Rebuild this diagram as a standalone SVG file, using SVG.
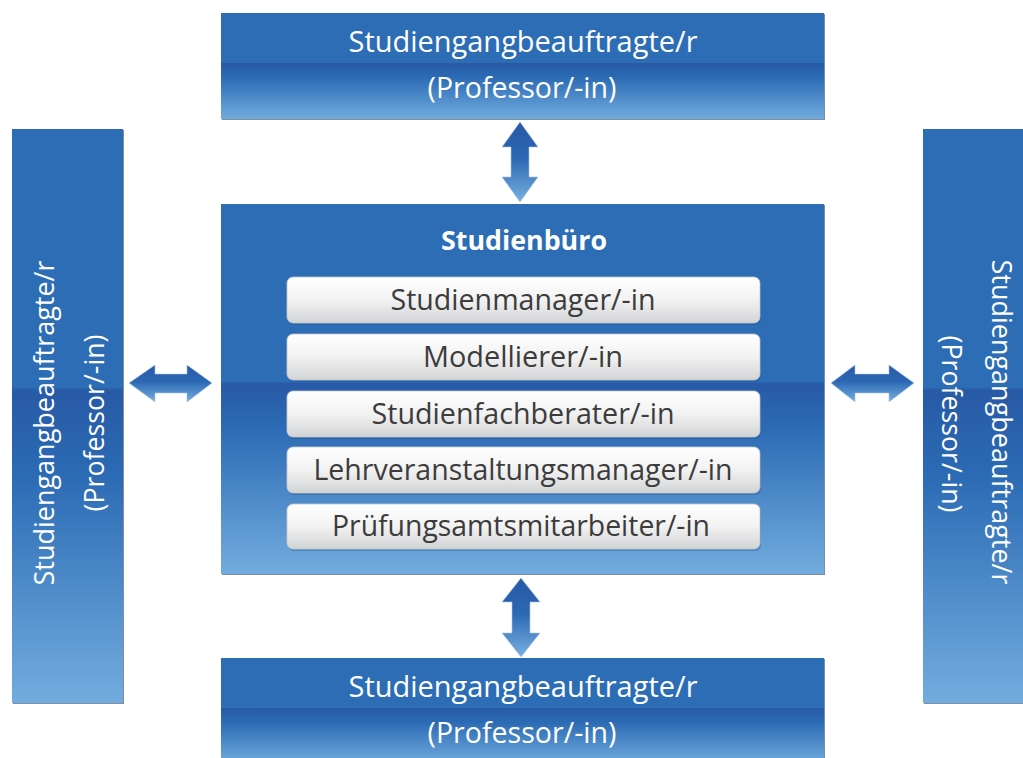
<svg xmlns="http://www.w3.org/2000/svg" width="1023" height="758" viewBox="0 0 1023 758">
<defs>
<linearGradient id="boxGrad" x1="0" y1="0" x2="0" y2="1">
<stop offset="0" stop-color="#2c6db6"/>
<stop offset="0.47" stop-color="#2c6db6"/>
<stop offset="0.475" stop-color="#285aa6"/>
<stop offset="0.6" stop-color="#2b6ab4"/>
<stop offset="1" stop-color="#72acde"/>
</linearGradient>
<linearGradient id="midGrad" x1="0" y1="0" x2="0" y2="1">
<stop offset="0" stop-color="#2c6db6"/>
<stop offset="0.48" stop-color="#2c6db6"/>
<stop offset="0.485" stop-color="#285aa6"/>
<stop offset="0.6" stop-color="#2b6ab4"/>
<stop offset="1" stop-color="#72acde"/>
</linearGradient>
<linearGradient id="sideGrad" x1="0" y1="0" x2="0" y2="1">
<stop offset="0" stop-color="#2c6db6"/>
<stop offset="0.45" stop-color="#2c6db6"/>
<stop offset="0.455" stop-color="#285aa6"/>
<stop offset="0.6" stop-color="#2b6ab4"/>
<stop offset="1" stop-color="#72acde"/>
</linearGradient>
<linearGradient id="arrowGrad" x1="0" y1="0" x2="0" y2="1">
<stop offset="0" stop-color="#2858a6"/>
<stop offset="0.45" stop-color="#2c68b3"/>
<stop offset="1" stop-color="#78b0e0"/>
</linearGradient>
<linearGradient id="innerGrad" x1="0" y1="0" x2="0" y2="1">
<stop offset="0" stop-color="#ffffff"/>
<stop offset="0.5" stop-color="#f2f2f2"/>
<stop offset="1" stop-color="#d2d3d5"/>
</linearGradient>
<style>
.shadow{fill:#7f8ea2;}
.big{font-family:"Open Sans","Noto Sans",sans-serif;font-size:29px;fill:#ffffff;text-anchor:middle;}
.side{font-family:"Open Sans","Noto Sans",sans-serif;font-size:27px;fill:#ffffff;text-anchor:middle;}
.title{font-family:"Open Sans","Noto Sans",sans-serif;font-size:26px;font-weight:bold;fill:#ffffff;text-anchor:middle;}
.inner{font-family:"Open Sans","Noto Sans",sans-serif;font-size:29px;fill:#3c3c3c;text-anchor:middle;}
.ibox{fill:url(#innerGrad);stroke:#c4c6c9;stroke-width:0.8;}
.ishadow{fill:#1d4f8f;opacity:0.35;}
.arrow{fill:url(#arrowGrad);stroke:#a9c8e8;stroke-width:0.6;}
</style>
</defs>
<rect width="1023" height="758" fill="#ffffff"/>

<g id="top-box">
<rect class="shadow" x="222" y="14" width="603" height="106"/>
<rect x="221" y="13" width="603" height="106" fill="url(#boxGrad)"/>
<text class="big" x="523" y="52" textLength="349" lengthAdjust="spacingAndGlyphs">Studiengangbeauftragte/r</text>
<text class="big" x="522" y="98" textLength="189" lengthAdjust="spacingAndGlyphs">(Professor/-in)</text>
</g>

<g id="left-box">
<rect class="shadow" x="13" y="130" width="111" height="574"/>
<rect x="12" y="129" width="111" height="574" fill="url(#sideGrad)"/>
<text class="side" transform="translate(54,423) rotate(-90)" textLength="325" lengthAdjust="spacingAndGlyphs">Studiengangbeauftragte/r</text>
<text class="side" transform="translate(104,423) rotate(-90)" textLength="177" lengthAdjust="spacingAndGlyphs">(Professor/-in)</text>
</g>

<g id="right-box">
<rect class="shadow" x="924" y="130" width="100" height="574"/>
<rect x="923" y="129" width="101" height="574" fill="url(#sideGrad)"/>
<text class="side" transform="translate(992,422) rotate(90)" textLength="325" lengthAdjust="spacingAndGlyphs">Studiengangbeauftragte/r</text>
<text class="side" transform="translate(942,424) rotate(90)" textLength="177" lengthAdjust="spacingAndGlyphs">(Professor/-in)</text>
</g>

<g id="bottom-box">
<rect class="shadow" x="222" y="659" width="603" height="106"/>
<rect x="221" y="658" width="603" height="106" fill="url(#boxGrad)"/>
<text class="big" x="523" y="697" textLength="349" lengthAdjust="spacingAndGlyphs">Studiengangbeauftragte/r</text>
<text class="big" x="522" y="743" textLength="189" lengthAdjust="spacingAndGlyphs">(Professor/-in)</text>
</g>

<g id="studienbuero">
<rect class="shadow" x="222" y="205" width="603" height="370"/>
<rect x="221" y="204" width="603" height="370" fill="url(#midGrad)"/>
<text class="title" x="524" y="250" textLength="166" lengthAdjust="spacingAndGlyphs">Studienbüro</text>
</g>

<g id="studienmanager">
<rect class="ishadow" x="288" y="279" width="473" height="46" rx="6"/>
<rect class="ibox" x="287" y="277" width="473" height="46" rx="6"/>
<text class="inner" x="523" y="310" textLength="265" lengthAdjust="spacingAndGlyphs">Studienmanager/-in</text>
</g>
<g id="modellierer">
<rect class="ishadow" x="288" y="336" width="473" height="46" rx="6"/>
<rect class="ibox" x="287" y="334" width="473" height="46" rx="6"/>
<text class="inner" x="523" y="367" textLength="200" lengthAdjust="spacingAndGlyphs">Modellierer/-in</text>
</g>
<g id="studienfachberater">
<rect class="ishadow" x="288" y="393" width="473" height="46" rx="6"/>
<rect class="ibox" x="287" y="391" width="473" height="46" rx="6"/>
<text class="inner" x="523" y="424" textLength="303" lengthAdjust="spacingAndGlyphs">Studienfachberater/-in</text>
</g>
<g id="lehrveranstaltungsmanager">
<rect class="ishadow" x="288" y="449" width="473" height="46" rx="6"/>
<rect class="ibox" x="287" y="447" width="473" height="46" rx="6"/>
<text class="inner" x="523" y="480" textLength="419" lengthAdjust="spacingAndGlyphs">Lehrveranstaltungsmanager/-in</text>
</g>
<g id="pruefungsamt">
<rect class="ishadow" x="288" y="506" width="473" height="45" rx="6"/>
<rect class="ibox" x="287" y="504" width="473" height="45" rx="6"/>
<text class="inner" x="521" y="536" textLength="378" lengthAdjust="spacingAndGlyphs">Prüfungsamtsmitarbeiter/-in</text>
</g>

<g id="connectors">
<path class="arrow" d="M520,122 L538,147 L529,147 L529,177 L538,177 L520,202 L502,177 L511,177 L511,147 L502,147 Z"/>
<path class="arrow" d="M521,578 L540,602 L530,602 L530,633 L540,633 L521,657 L502,633 L512,633 L512,602 L502,602 Z"/>
<path class="arrow" d="M129,383 L155,365 L155,374 L187,374 L187,365 L212,383 L187,402 L187,393 L155,393 L155,402 Z"/>
<path class="arrow" d="M831,383 L855,365 L855,374 L889,374 L889,365 L914,383 L889,402 L889,393 L855,393 L855,402 Z"/>
</g>
</svg>
